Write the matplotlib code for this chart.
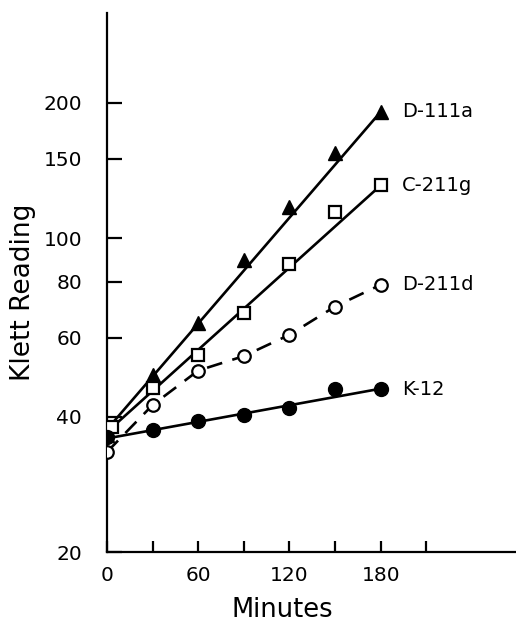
import numpy as np
import matplotlib
matplotlib.use("Agg")
import matplotlib.pyplot as plt
from matplotlib.ticker import FixedLocator, NullLocator

plt.rcParams['font.family'] = ['DejaVu Sans']

minutes = [0, 30, 60, 90, 120, 150, 180]

d111a = [36.5, 49.6, 64.7, 89.4, 117, 155, 191]
c211g_x = [3, 30, 60, 90, 120, 150, 180]
c211g = [38, 46.4, 54.9, 68, 87.6, 114, 131]
d211d = [33.4, 42.5, 50.7, 54.6, 60.9, 70.4, 78.7]
k12 = [36, 37.3, 39.2, 40.4, 41.9, 46.1, 46.1]

# straight lines drawn through the points (start/end readings)
fit_x = [0, 180]
d111a_fit = [37.5, 191]
c211g_fit = [37, 131]
k12_fit = [35.8, 46.2]

labels = ["D-111a", "C-211g", "D-211d", "K-12"]

yticks = [20, 40, 60, 80, 100, 150, 200]
xticks = [0, 30, 60, 90, 120, 150, 180, 210]
xlabels = ["0", "", "60", "", "120", "", "180", ""]

fig = plt.figure(figsize=(5.16, 6.25), dpi=100)
ax = fig.add_axes([107/516, 73/625, 409/516, 539/625])

lw = 1.9
ax.plot(fit_x, d111a_fit, color='black', lw=lw, zorder=2)
ax.plot(fit_x, c211g_fit, color='black', lw=lw, zorder=2)
ax.plot(fit_x, k12_fit, color='black', lw=lw, zorder=2)
ax.plot(minutes, d211d, color='black', lw=lw, ls=(0, (6, 4)), zorder=2)

ax.plot(minutes, d111a, ls='none', marker='^', ms=10.5, color='black', zorder=3)
ax.plot(c211g_x, c211g, ls='none', marker='s', ms=9, mfc='white', mec='black', mew=1.6, zorder=3)
ax.plot(minutes, d211d, ls='none', marker='o', ms=9, mfc='white', mec='black', mew=1.6, zorder=3)
ax.plot(minutes, k12, ls='none', marker='o', ms=10, color='black', zorder=3)

ends = [d111a[-1], c211g[-1], d211d[-1], k12[-1]]
for lab, v in zip(labels, ends):
    ax.text(194, v, lab, fontsize=14, va='center', ha='left')

ax.set_yscale('log')
ax.set_ylim(20, 317)
ax.set_xlim(0, 269)
ax.yaxis.set_major_locator(FixedLocator(yticks))
ax.yaxis.set_minor_locator(NullLocator())
ax.set_yticklabels([str(t) for t in yticks])
ax.set_xticks(xticks)
ax.set_xticklabels(xlabels)

for s in ['top', 'right']:
    ax.spines[s].set_visible(False)
for s in ['left', 'bottom']:
    ax.spines[s].set_linewidth(1.6)

ax.tick_params(axis='y', direction='in', length=11, width=1.6, pad=18, labelsize=14.5)
ax.tick_params(axis='x', direction='in', length=8, width=1.6, pad=10, labelsize=14.5)

ax.set_ylabel("Klett Reading", fontsize=19, va='center')
ax.yaxis.set_label_coords(-0.205, 0.482)
ax.set_xlabel("Minutes", fontsize=18.5, va='center')
ax.xaxis.set_label_coords(0.428, -0.108)

fig.savefig("out.png", dpi=100)
